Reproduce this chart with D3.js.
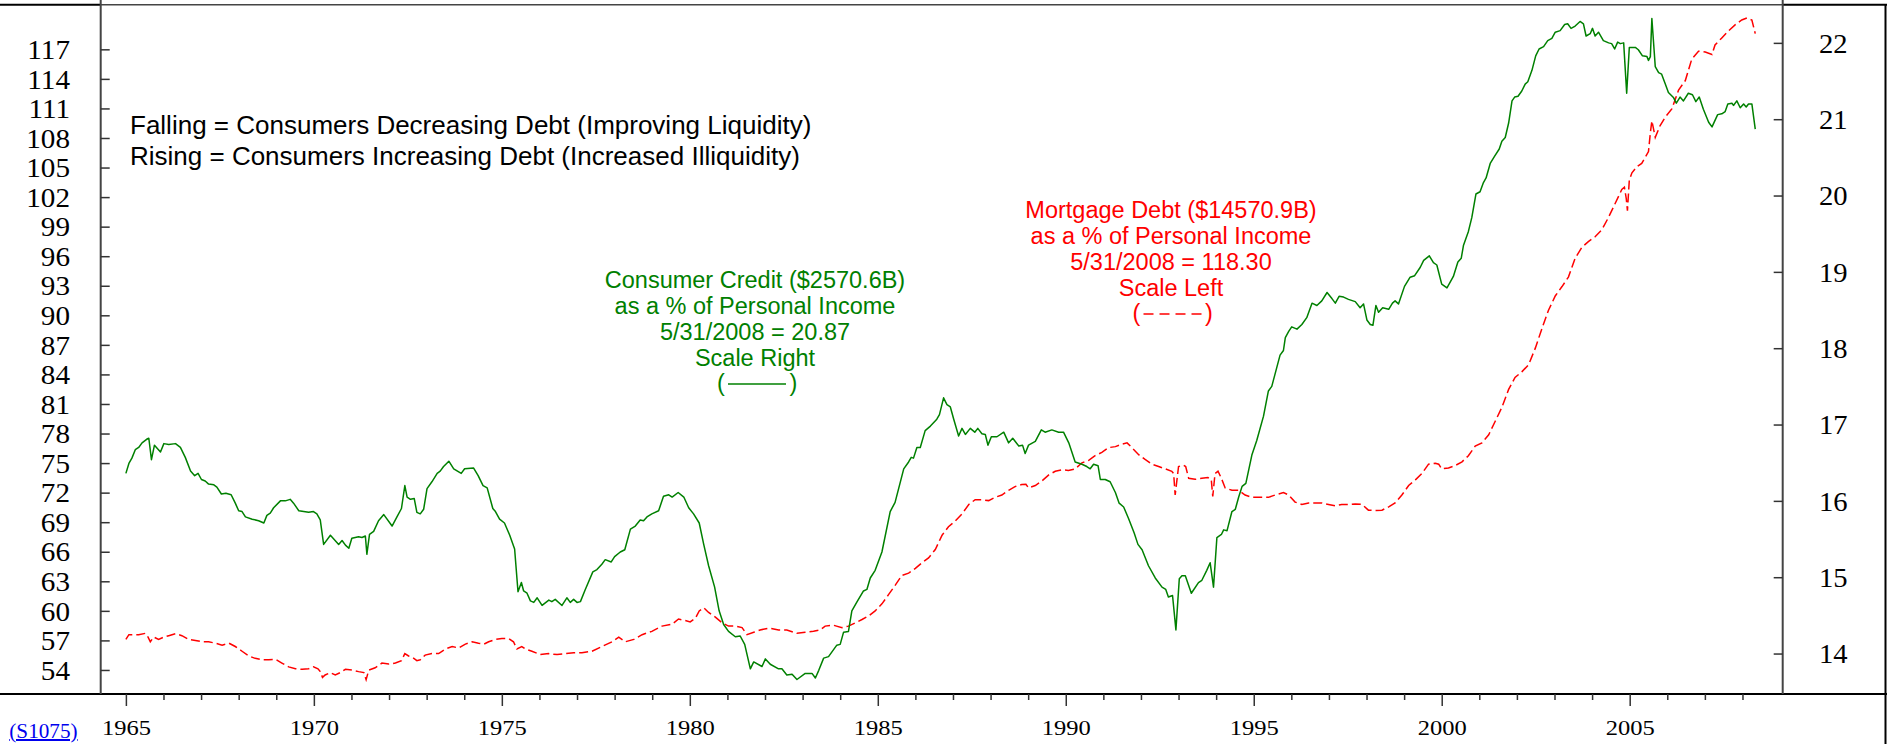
<!DOCTYPE html>
<html><head><meta charset="utf-8">
<script src="https://cdn.jsdelivr.net/npm/d3@7"></script>
<style>
html,body{margin:0;padding:0;background:#fff;}
svg{display:block;}
</style></head><body>
<svg id="chart" width="1887" height="744"></svg>
<script>
// ---- tick labels ----
const leftTicks = [54,57,60,63,66,69,72,75,78,81,84,87,90,93,96,99,102,105,108,111,114,117];
const rightTicks = [14,15,16,17,18,19,20,21,22];
const yearTicks = [1965,1966,1967,1968,1969,1970,1971,1972,1973,1974,1975,1976,1977,1978,1979,1980,1981,1982,1983,1984,1985,1986,1987,1988,1989,1990,1991,1992,1993,1994,1995,1996,1997,1998,1999,2000,2001,2002,2003,2004,2005,2006,2007,2008];
const labelYears = [1965,1970,1975,1980,1985,1990,1995,2000,2005];

// ---- Consumer credit as % of personal income (right scale) [year, value] ----
const consumerCredit = [[1965.00,16.36],[1965.08,16.49],[1965.16,16.56],[1965.25,16.67],[1965.34,16.70],[1965.43,16.76],[1965.56,16.81],[1965.61,16.82],[1965.68,16.54],[1965.76,16.73],[1965.92,16.64],[1966.01,16.75],[1966.14,16.74],[1966.32,16.75],[1966.45,16.70],[1966.58,16.57],[1966.72,16.39],[1966.83,16.33],[1966.92,16.36],[1967.01,16.28],[1967.11,16.26],[1967.20,16.22],[1967.34,16.21],[1967.42,16.18],[1967.54,16.09],[1967.66,16.10],[1967.80,16.08],[1967.91,15.97],[1968.00,15.87],[1968.09,15.86],[1968.18,15.79],[1968.36,15.76],[1968.53,15.74],[1968.67,15.71],[1968.75,15.81],[1968.84,15.84],[1968.93,15.91],[1969.11,16.00],[1969.24,16.00],[1969.37,16.02],[1969.46,15.97],[1969.60,15.87],[1969.86,15.85],[1969.99,15.86],[1970.08,15.83],[1970.17,15.75],[1970.26,15.43],[1970.44,15.55],[1970.66,15.43],[1970.75,15.48],[1970.84,15.42],[1970.93,15.38],[1971.01,15.51],[1971.19,15.53],[1971.28,15.52],[1971.37,15.54],[1971.41,15.30],[1971.48,15.56],[1971.59,15.60],[1971.72,15.74],[1971.86,15.82],[1972.08,15.67],[1972.21,15.79],[1972.33,15.90],[1972.42,16.20],[1972.48,16.05],[1972.57,16.02],[1972.67,16.03],[1972.74,15.85],[1972.83,15.83],[1972.92,15.89],[1973.01,16.16],[1973.14,16.25],[1973.28,16.36],[1973.36,16.39],[1973.45,16.45],[1973.59,16.52],[1973.72,16.42],[1973.92,16.36],[1974.01,16.42],[1974.25,16.43],[1974.37,16.33],[1974.50,16.20],[1974.61,16.17],[1974.76,15.90],[1974.83,15.86],[1974.94,15.76],[1975.07,15.71],[1975.21,15.55],[1975.34,15.37],[1975.43,14.81],[1975.52,14.93],[1975.58,14.82],[1975.67,14.79],[1975.76,14.69],[1975.85,14.67],[1975.94,14.73],[1976.07,14.63],[1976.25,14.70],[1976.33,14.68],[1976.42,14.71],[1976.60,14.63],[1976.73,14.73],[1976.82,14.67],[1976.91,14.71],[1977.00,14.67],[1977.09,14.68],[1977.22,14.84],[1977.42,15.07],[1977.53,15.10],[1977.66,15.17],[1977.75,15.23],[1977.91,15.20],[1978.00,15.27],[1978.15,15.33],[1978.27,15.36],[1978.42,15.63],[1978.55,15.67],[1978.68,15.75],[1978.77,15.74],[1978.86,15.79],[1978.99,15.83],[1979.17,15.87],[1979.30,16.06],[1979.44,16.08],[1979.53,16.05],[1979.69,16.11],[1979.84,16.05],[1979.97,15.91],[1980.10,15.83],[1980.25,15.71],[1980.37,15.43],[1980.50,15.15],[1980.66,14.87],[1980.78,14.56],[1980.90,14.38],[1981.03,14.29],[1981.21,14.22],[1981.34,14.23],[1981.46,14.12],[1981.61,13.80],[1981.70,13.89],[1981.92,13.83],[1982.01,13.93],[1982.14,13.86],[1982.36,13.80],[1982.45,13.80],[1982.58,13.72],[1982.72,13.73],[1982.85,13.66],[1983.07,13.74],[1983.25,13.74],[1983.34,13.68],[1983.43,13.78],[1983.56,13.94],[1983.69,13.96],[1983.91,14.11],[1984.00,14.12],[1984.09,14.28],[1984.22,14.29],[1984.31,14.56],[1984.45,14.68],[1984.62,14.82],[1984.71,14.84],[1984.80,14.99],[1984.93,15.09],[1985.11,15.33],[1985.33,15.86],[1985.46,15.98],[1985.69,16.42],[1985.82,16.51],[1985.89,16.57],[1985.95,16.56],[1986.04,16.70],[1986.13,16.70],[1986.26,16.92],[1986.40,16.98],[1986.57,17.07],[1986.64,17.13],[1986.75,17.35],[1986.84,17.26],[1986.93,17.23],[1987.02,17.07],[1987.15,16.85],[1987.24,16.95],[1987.33,16.87],[1987.46,16.95],[1987.58,16.90],[1987.66,16.95],[1987.77,16.88],[1987.86,16.87],[1987.93,16.73],[1988.02,16.84],[1988.17,16.84],[1988.35,16.90],[1988.48,16.76],[1988.59,16.82],[1988.75,16.72],[1988.85,16.73],[1988.92,16.62],[1989.01,16.73],[1989.19,16.78],[1989.35,16.93],[1989.45,16.90],[1989.63,16.93],[1989.81,16.90],[1989.94,16.90],[1990.08,16.76],[1990.25,16.51],[1990.43,16.48],[1990.56,16.45],[1990.65,16.42],[1990.74,16.48],[1990.86,16.46],[1990.92,16.28],[1991.05,16.28],[1991.18,16.25],[1991.32,16.11],[1991.42,15.97],[1991.54,15.92],[1991.67,15.77],[1991.82,15.58],[1991.92,15.43],[1992.03,15.36],[1992.20,15.15],[1992.38,14.99],[1992.56,14.87],[1992.66,14.84],[1992.73,14.74],[1992.84,14.76],[1992.93,14.31],[1993.02,14.98],[1993.09,15.02],[1993.18,15.02],[1993.34,14.79],[1993.53,14.93],[1993.62,14.96],[1993.75,15.09],[1993.84,15.19],[1993.93,14.87],[1994.02,15.52],[1994.14,15.56],[1994.20,15.62],[1994.29,15.61],[1994.42,15.86],[1994.51,15.89],[1994.60,16.05],[1994.69,16.19],[1994.79,16.23],[1994.95,16.60],[1995.08,16.79],[1995.26,17.11],[1995.39,17.44],[1995.48,17.50],[1995.70,17.91],[1995.79,17.97],[1995.84,18.14],[1995.93,18.22],[1996.01,18.28],[1996.15,18.25],[1996.28,18.31],[1996.41,18.40],[1996.55,18.59],[1996.68,18.56],[1996.81,18.62],[1996.95,18.73],[1997.08,18.65],[1997.17,18.59],[1997.27,18.68],[1997.39,18.67],[1997.52,18.64],[1997.70,18.61],[1997.83,18.53],[1997.92,18.58],[1998.01,18.37],[1998.10,18.31],[1998.17,18.30],[1998.25,18.56],[1998.32,18.47],[1998.43,18.53],[1998.59,18.51],[1998.69,18.59],[1998.76,18.62],[1998.85,18.58],[1999.01,18.81],[1999.16,18.93],[1999.28,18.95],[1999.43,19.06],[1999.52,19.15],[1999.67,19.21],[1999.78,19.12],[1999.87,19.09],[2000.00,18.84],[2000.14,18.79],[2000.31,18.94],[2000.43,19.13],[2000.52,19.18],[2000.58,19.35],[2000.71,19.53],[2000.80,19.71],[2000.91,20.02],[2001.02,20.05],[2001.11,20.17],[2001.18,20.23],[2001.29,20.42],[2001.40,20.51],[2001.53,20.61],[2001.60,20.71],[2001.69,20.76],[2001.78,20.95],[2001.87,21.24],[2001.94,21.29],[2002.03,21.30],[2002.13,21.37],[2002.22,21.46],[2002.29,21.49],[2002.40,21.64],[2002.50,21.83],[2002.59,21.92],[2002.71,21.95],[2002.82,22.03],[2002.93,22.06],[2003.02,22.14],[2003.15,22.16],[2003.27,22.24],[2003.35,22.25],[2003.44,22.19],[2003.55,22.22],[2003.68,22.28],[2003.77,22.25],[2003.84,22.09],[2003.95,22.12],[2004.01,22.19],[2004.08,22.09],[2004.17,22.14],[2004.30,22.03],[2004.44,22.00],[2004.52,21.99],[2004.60,21.92],[2004.68,22.01],[2004.75,21.99],[2004.84,22.00],[2004.92,21.34],[2004.99,21.94],[2005.15,21.94],[2005.23,21.91],[2005.34,21.83],[2005.46,21.82],[2005.50,21.77],[2005.55,21.82],[2005.59,22.32],[2005.68,21.69],[2005.77,21.61],[2005.85,21.59],[2005.94,21.47],[2006.03,21.35],[2006.17,21.28],[2006.24,21.21],[2006.34,21.29],[2006.43,21.24],[2006.56,21.34],[2006.67,21.32],[2006.76,21.23],[2006.85,21.29],[2006.96,21.13],[2007.10,20.96],[2007.19,20.90],[2007.34,21.06],[2007.45,21.07],[2007.54,21.10],[2007.61,21.20],[2007.72,21.21],[2007.76,21.18],[2007.85,21.24],[2007.94,21.15],[2008.03,21.20],[2008.10,21.16],[2008.16,21.20],[2008.25,21.20],[2008.34,20.87]];

// ---- Mortgage debt as % of personal income (left scale) [year, value] ----
const mortgageDebt = [[1965.00,57.10],[1965.08,57.58],[1965.21,57.58],[1965.34,57.58],[1965.52,57.72],[1965.59,57.34],[1965.65,56.86],[1965.74,57.34],[1965.87,57.10],[1966.01,57.34],[1966.14,57.48],[1966.32,57.68],[1966.49,57.48],[1966.67,57.10],[1966.85,57.00],[1967.03,56.86],[1967.20,56.86],[1967.38,56.72],[1967.56,56.52],[1967.74,56.72],[1967.91,56.38],[1968.09,55.90],[1968.27,55.42],[1968.44,55.18],[1968.62,55.03],[1968.80,55.03],[1968.98,55.08],[1969.15,54.70],[1969.33,54.31],[1969.51,54.12],[1969.69,54.07],[1969.86,54.12],[1969.99,54.31],[1970.11,54.12],[1970.17,53.83],[1970.23,53.25],[1970.30,53.49],[1970.44,53.73],[1970.57,53.49],[1970.70,53.73],[1970.84,54.07],[1971.02,53.98],[1971.19,53.83],[1971.33,53.73],[1971.39,53.01],[1971.46,53.98],[1971.63,54.22],[1971.81,54.70],[1971.99,54.60],[1972.17,54.70],[1972.33,54.94],[1972.42,55.66],[1972.52,55.42],[1972.66,55.18],[1972.74,54.94],[1972.83,55.03],[1972.96,55.51],[1973.14,55.66],[1973.32,55.66],[1973.50,56.14],[1973.68,56.38],[1973.85,56.23],[1974.03,56.62],[1974.21,56.86],[1974.38,56.72],[1974.52,56.62],[1974.65,56.86],[1974.83,57.10],[1975.00,57.20],[1975.18,57.20],[1975.31,56.86],[1975.40,56.14],[1975.53,56.38],[1975.62,56.14],[1975.80,55.90],[1976.02,55.56],[1976.25,55.66],[1976.47,55.56],[1976.69,55.66],[1976.91,55.75],[1977.13,55.75],[1977.40,55.90],[1977.66,56.38],[1977.93,56.86],[1978.11,57.34],[1978.28,56.86],[1978.51,57.10],[1978.73,57.58],[1978.99,57.92],[1979.26,58.45],[1979.53,58.64],[1979.70,59.17],[1979.88,59.02],[1980.01,58.88],[1980.15,59.26],[1980.25,59.99],[1980.37,60.32],[1980.50,59.84],[1980.68,59.36],[1980.86,58.78],[1981.03,58.45],[1981.21,58.45],[1981.39,58.30],[1981.52,57.58],[1981.70,57.82],[1981.87,58.06],[1982.10,58.25],[1982.36,58.06],[1982.58,58.06],[1982.85,57.72],[1983.07,57.82],[1983.29,57.92],[1983.47,58.06],[1983.60,58.45],[1983.82,58.54],[1984.05,58.30],[1984.22,58.45],[1984.40,58.78],[1984.58,59.12],[1984.76,59.50],[1984.93,59.99],[1985.11,60.71],[1985.29,61.67],[1985.47,62.63],[1985.64,63.59],[1985.82,63.83],[1986.00,64.31],[1986.18,64.89],[1986.35,65.37],[1986.53,66.23],[1986.71,67.68],[1986.88,68.54],[1987.06,69.12],[1987.24,69.84],[1987.42,70.80],[1987.59,71.28],[1987.77,71.28],[1987.95,71.19],[1988.12,71.52],[1988.30,71.76],[1988.48,72.24],[1988.66,72.63],[1988.83,72.82],[1988.94,72.85],[1989.01,72.48],[1989.19,72.72],[1989.37,73.20],[1989.54,73.78],[1989.72,74.17],[1989.90,74.31],[1990.07,74.26],[1990.25,74.41],[1990.43,75.03],[1990.61,75.27],[1990.78,75.75],[1990.96,76.09],[1991.14,76.57],[1991.32,76.67],[1991.49,76.91],[1991.63,77.05],[1991.76,76.57],[1991.94,75.85],[1992.11,75.37],[1992.29,74.89],[1992.47,74.65],[1992.65,74.41],[1992.82,74.17],[1992.87,73.93],[1992.91,71.76],[1993.00,74.65],[1993.13,74.79],[1993.19,74.65],[1993.27,73.45],[1993.44,73.35],[1993.62,73.45],[1993.78,73.54],[1993.87,73.35],[1993.91,71.62],[1993.97,73.93],[1994.05,74.17],[1994.14,73.45],[1994.24,72.48],[1994.42,72.24],[1994.60,72.24],[1994.77,71.76],[1994.95,71.52],[1995.17,71.52],[1995.39,71.52],[1995.57,71.76],[1995.79,72.00],[1995.93,71.76],[1996.10,71.04],[1996.28,70.80],[1996.46,70.95],[1996.63,70.95],[1996.81,70.95],[1996.99,70.80],[1997.17,70.66],[1997.34,70.80],[1997.52,70.80],[1997.70,70.85],[1997.88,70.80],[1998.05,70.22],[1998.23,70.18],[1998.41,70.22],[1998.59,70.56],[1998.76,70.95],[1998.94,71.76],[1999.12,72.72],[1999.30,73.30],[1999.47,73.93],[1999.65,74.89],[1999.83,74.99],[1999.92,74.89],[2000.00,74.41],[2000.18,74.50],[2000.36,74.75],[2000.54,75.13],[2000.71,75.75],[2000.89,76.72],[2001.07,77.05],[2001.25,77.87],[2001.42,79.22],[2001.60,80.66],[2001.78,82.48],[2001.95,83.69],[2002.13,84.26],[2002.31,84.98],[2002.49,86.67],[2002.66,88.59],[2002.84,90.51],[2003.02,91.96],[2003.20,92.92],[2003.37,93.88],[2003.55,95.80],[2003.73,96.91],[2003.90,97.48],[2004.08,97.97],[2004.26,98.69],[2004.43,99.89],[2004.61,101.33],[2004.79,102.77],[2004.86,103.01],[2004.91,101.81],[2004.94,100.61],[2004.99,103.73],[2005.06,104.46],[2005.19,105.08],[2005.32,105.42],[2005.50,106.62],[2005.55,108.54],[2005.59,109.74],[2005.68,108.06],[2005.81,109.26],[2005.94,110.08],[2006.12,110.95],[2006.30,112.87],[2006.48,113.83],[2006.65,115.99],[2006.83,116.81],[2007.01,116.72],[2007.19,116.48],[2007.27,117.44],[2007.45,118.16],[2007.63,118.88],[2007.81,119.50],[2007.98,119.98],[2008.12,120.18],[2008.25,119.98],[2008.34,118.60]];

// ---- annotation texts ----
const noteLines = ["Falling = Consumers Decreasing Debt (Improving Liquidity)",
                   "Rising = Consumers Increasing Debt (Increased Illiquidity)"];
const creditLabel = ["Consumer Credit ($2570.6B)","as a % of Personal Income","5/31/2008 = 20.87","Scale Right"];
const mortgageLabel = ["Mortgage Debt ($14570.9B)","as a % of Personal Income","5/31/2008 = 118.30","Scale Left"];
const sourceCode = "(S1075)";

// ---- layout ----
const W = 1887, H = 744;
const L = 100.7, R = 1782.7, T = 4.7, B = 694;
const GREEN = "#008000", RED = "#ff0000";
const SERIF = "'Liberation Serif','Times New Roman',Times,serif";
const SANS = "'Liberation Sans',Arial,Helvetica,sans-serif";

const svg = d3.select("#chart");
const x = d3.scaleLinear().domain([1964.33, 2009.07]).range([L, R]);
const yL = d3.scaleLinear().domain([51.56, 121.53]).range([B, T]);
const yR = d3.scaleLinear().domain([13.47, 22.50]).range([B, T]);

function stretch(sel, k) {
  sel.each(function () {
    const w = this.getComputedTextLength();
    if (w > 0) d3.select(this).attr("textLength", w * k).attr("lengthAdjust", "spacingAndGlyphs");
  });
}

// frame
svg.append("line").attr("x1", 0).attr("x2", L).attr("y1", T).attr("y2", T).attr("stroke", "#000").attr("stroke-width", 2);
svg.append("line").attr("x1", L).attr("x2", R).attr("y1", T).attr("y2", T).attr("stroke", "#444").attr("stroke-width", 1.5);
svg.append("line").attr("x1", R).attr("x2", W).attr("y1", T).attr("y2", T).attr("stroke", "#000").attr("stroke-width", 2);
svg.append("line").attr("x1", 0).attr("x2", W).attr("y1", B).attr("y2", B).attr("stroke", "#000").attr("stroke-width", 2);
svg.append("line").attr("x1", 1885.5).attr("x2", 1885.5).attr("y1", T).attr("y2", H).attr("stroke", "#000").attr("stroke-width", 2);
svg.append("line").attr("x1", L).attr("x2", L).attr("y1", 0).attr("y2", B).attr("stroke", "#444").attr("stroke-width", 2);
svg.append("line").attr("x1", R).attr("x2", R).attr("y1", 0).attr("y2", B).attr("stroke", "#444").attr("stroke-width", 2);

// left axis
const gL = svg.append("g").attr("transform", `translate(${L},0)`)
  .call(d3.axisLeft(yL).tickValues(leftTicks).tickSize(-9).tickPadding(30.7).tickFormat(d3.format("d")));
gL.select(".domain").remove();
gL.attr("font-family", SERIF).attr("font-size", 27);
gL.selectAll(".tick line").attr("stroke", "#333").attr("stroke-width", 1.5);
gL.selectAll(".tick text").attr("fill", "#000").attr("dy", "0.34em");
stretch(gL.selectAll(".tick text"), 1.08);

// right axis
const gR = svg.append("g").attr("transform", `translate(${R},0)`)
  .call(d3.axisRight(yR).tickValues(rightTicks).tickSize(-9).tickPadding(36.3).tickFormat(d3.format("d")));
gR.select(".domain").remove();
gR.attr("font-family", SERIF).attr("font-size", 27);
gR.selectAll(".tick line").attr("stroke", "#333").attr("stroke-width", 1.5);
gR.selectAll(".tick text").attr("fill", "#000").attr("dy", "0.34em");
stretch(gR.selectAll(".tick text"), 1.06);

// bottom axis
const gB = svg.append("g").attr("transform", `translate(0,${B})`)
  .call(d3.axisBottom(x).tickValues(yearTicks).tickSize(12)
    .tickFormat(d => labelYears.includes(d) ? String(d) : ""));
gB.select(".domain").remove();
gB.attr("font-family", SERIF).attr("font-size", 21.5);
gB.selectAll(".tick line").attr("stroke", "#333").attr("stroke-width", 1.5)
  .attr("y2", d => labelYears.includes(d) ? 12 : 6);
gB.selectAll(".tick text").attr("fill", "#000").attr("y", 41).attr("dy", 0);
stretch(gB.selectAll(".tick text"), 1.14);

// series
const lineL = d3.line().x(d => x(d[0])).y(d => yL(d[1]));
const lineR = d3.line().x(d => x(d[0])).y(d => yR(d[1]));
svg.append("path").datum(mortgageDebt).attr("d", lineL)
  .attr("fill", "none").attr("stroke", RED).attr("stroke-width", 1.5).attr("stroke-dasharray", "9,4");
svg.append("path").datum(consumerCredit).attr("d", lineR)
  .attr("fill", "none").attr("stroke", GREEN).attr("stroke-width", 1.5).attr("stroke-linejoin", "round");

// notes
svg.append("g").selectAll("text").data(noteLines).join("text")
  .attr("x", 130).attr("y", (d, i) => 134 + i * 31)
  .attr("font-family", SANS).attr("font-size", 26).attr("fill", "#000").text(d => d);

function block(lines, cx, y0, color) {
  const g = svg.append("g").attr("font-family", SANS).attr("font-size", 23.5).attr("fill", color).attr("text-anchor", "middle");
  g.selectAll("text").data(lines).join("text")
    .attr("x", cx).attr("y", (d, i) => y0 + i * 26).text(d => d);
  return g;
}
block(creditLabel, 755, 288, GREEN);
block(mortgageLabel, 1171, 218, RED);

// legend samples
function legend(x0, x1, yLine, yBase, color, dash) {
  svg.append("text").attr("x", x0 - 11).attr("y", yBase).attr("font-family", SANS).attr("font-size", 23.5).attr("fill", color).text("(");
  svg.append("text").attr("x", x1 + 3.5).attr("y", yBase).attr("font-family", SANS).attr("font-size", 23.5).attr("fill", color).text(")");
  const l = svg.append("line").attr("x1", x0).attr("x2", x1).attr("y1", yLine).attr("y2", yLine)
    .attr("stroke", color).attr("stroke-width", 1.6);
  if (dash) l.attr("stroke-dasharray", dash);
}
legend(728, 786, 384, 391, GREEN, null);
legend(1143.5, 1201.5, 314, 320.6, RED, "10,6");

// source code link
const src = svg.append("text").attr("x", 9.3).attr("y", 738).attr("font-family", SERIF).attr("font-size", 20)
  .attr("fill", "#0000ee").attr("text-decoration", "underline").text(sourceCode);
stretch(src, 1.06);
</script>
</body></html>
